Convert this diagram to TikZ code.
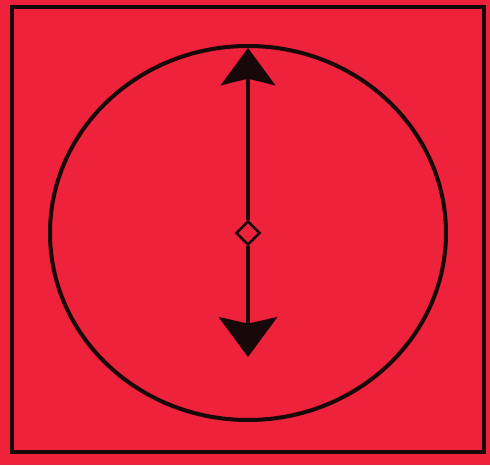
\documentclass[tikz,border=0pt]{standalone}
\usetikzlibrary{arrows.meta,shapes.geometric}
\definecolor{bgred}{RGB}{238,34,58}
\definecolor{ink}{RGB}{25,8,10}
\tikzset{
  frame/.style={draw=ink,line width=3pt},
  shaft/.style={draw=ink,line width=2.6pt},
  pivot/.style={diamond,draw=ink,fill=bgred,line width=2pt,minimum size=18pt,inner sep=0pt}
}
\begin{document}
\begin{tikzpicture}[x=0.75pt,y=-0.75pt]
\fill[bgred] (0,0) rectangle (490,465);
\useasboundingbox (0,0) rectangle (490,465);
\draw[frame] (12,7) rectangle (484,452);
\draw[frame] (248,233) ellipse [x radius=198, y radius=187];
\node[pivot] (c) at (248,233) {};
\coordinate (top) at (248,48);
\coordinate (bot) at (248,357);
\draw[shaft,-{Stealth[length=28pt,width=41pt,inset=5pt]}] (c) -- (top);
\draw[shaft,-{Stealth[length=30pt,width=44pt,inset=5pt]}] (c) -- (bot);
\end{tikzpicture}
\end{document}
